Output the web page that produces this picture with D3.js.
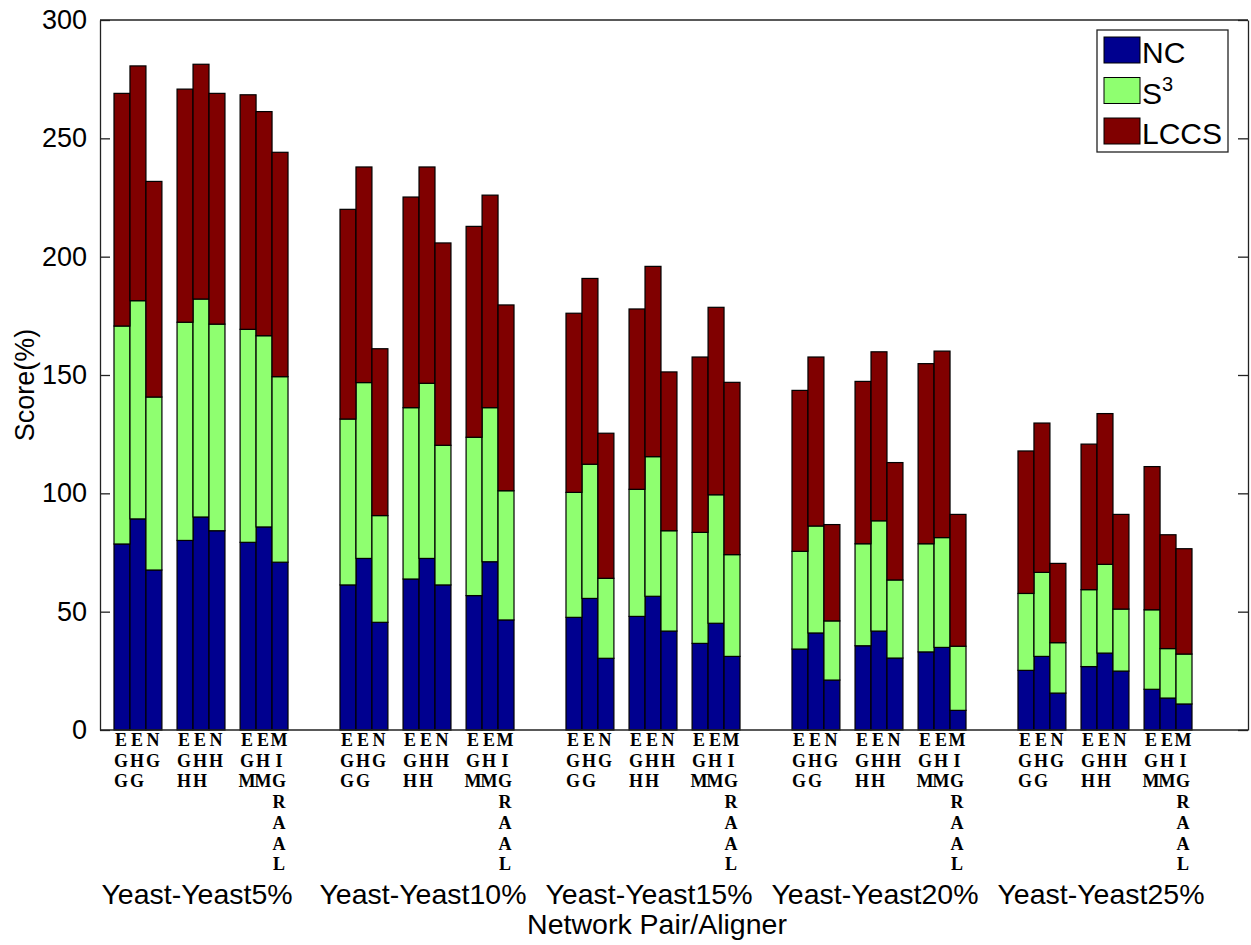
<!DOCTYPE html>
<html>
<head>
<meta charset="utf-8">
<script src="https://cdn.jsdelivr.net/npm/d3@7"></script>
<style>
  body { margin: 0; background: #fff; }
  svg { display: block; }
</style>
</head>
<body>
<script>
var w = 1251;
var h = 945;

// plot box
var plotLeft = 100, plotRight = 1248, plotTop = 20, plotBottom = 730;

var groups = ["Yeast-Yeast5%", "Yeast-Yeast10%", "Yeast-Yeast15%", "Yeast-Yeast20%", "Yeast-Yeast25%"];
var aligners = [
    ["EGG", "EHG", "NG"],
    ["EGH", "EHH", "NH"],
    ["EGM", "EHM", "MIGRAAL"]
];
var keys = ["nc", "s3", "lccs"];
var yTicks = [0, 50, 100, 150, 200, 250, 300];

// one row per group, 9 bars in aligner order
var ncValues = [
    [78.6, 89.2, 67.6, 80.1, 90.0, 84.2, 79.3, 85.8, 70.9],
    [61.3, 72.5, 45.5, 63.8, 72.5, 61.3, 56.8, 71.1, 46.5],
    [47.6, 55.6, 30.3, 48.0, 56.5, 41.8, 36.6, 45.1, 31.1],
    [34.2, 41.0, 21.1, 35.6, 41.8, 30.4, 33.0, 34.9, 8.3],
    [25.2, 31.1, 15.6, 26.8, 32.5, 24.9, 17.2, 13.5, 11.0]
];
var s3Values = [
    [92.1, 92.2, 73.1, 92.2, 92.1, 87.3, 90.0, 80.8, 78.4],
    [70.1, 74.3, 45.1, 72.4, 74.0, 59.0, 66.9, 65.1, 54.6],
    [52.8, 56.7, 33.8, 53.7, 59.0, 42.4, 46.9, 54.3, 43.0],
    [41.3, 45.2, 25.0, 43.1, 46.6, 33.0, 45.7, 46.4, 27.1],
    [32.5, 35.5, 21.3, 32.5, 37.5, 26.2, 33.6, 20.9, 21.1]
];
var lccsValues = [
    [98.3, 99.2, 91.1, 98.5, 99.2, 97.5, 99.1, 94.7, 94.8],
    [88.6, 91.1, 70.5, 89.0, 91.4, 85.5, 89.1, 89.8, 78.5],
    [75.7, 78.5, 61.3, 76.2, 80.4, 67.1, 74.1, 79.2, 72.8],
    [68.0, 71.4, 40.7, 68.6, 71.4, 49.6, 76.1, 78.8, 55.7],
    [60.2, 63.1, 33.5, 61.5, 63.7, 40.0, 60.5, 48.1, 44.5]
];

var colors = {nc: "#00008F", s3: "#8FFF70", lccs: "#800000"};

var rows = [];
groups.forEach(function(g, gi) {
    aligners.forEach(function(set, si) {
        set.forEach(function(name, bi) {
            var k = si * 3 + bi;
            rows.push({group: g, sub: si, bar: bi, name: name,
                nc: ncValues[gi][k], s3: s3Values[gi][k], lccs: lccsValues[gi][k]});
        });
    });
});

var stacked = d3.stack().keys(keys)(rows);

var xGroup = d3.scaleBand()
    .domain(groups)
    .range([114, 1192])
    .paddingInner(0.23);

var xSub = d3.scaleBand()
    .domain([0, 1, 2])
    .range([0, xGroup.bandwidth()])
    .paddingInner(0.24);

var xBar = d3.scaleBand()
    .domain([0, 1, 2])
    .range([0, xSub.bandwidth()]);

var yScale = d3.scaleLinear()
    .domain([0, 300])
    .range([plotBottom, plotTop]);

function barX(d) {
    return xGroup(d.group) + xSub(d.sub) + xBar(d.bar);
}

var svg = d3.select("body")
    .append("svg")
    .attr("width", w)
    .attr("height", h)
    .style("font-family", "'Liberation Sans', Arial, sans-serif");

// bars
svg.selectAll(".layer")
    .data(stacked)
    .enter()
    .append("g")
    .attr("class", "layer")
    .attr("fill", function(d) { return colors[d.key]; })
    .selectAll("rect")
    .data(function(d) { return d; })
    .enter()
    .append("rect")
    .attr("x", function(d) { return barX(d.data); })
    .attr("width", xBar.bandwidth())
    .attr("y", function(d) { return yScale(d[1]); })
    .attr("height", function(d) { return yScale(d[0]) - yScale(d[1]); })
    .attr("stroke", "#000")
    .attr("stroke-width", 1.2);

// axes box
var yAxis = d3.axisLeft(yScale)
    .tickValues(yTicks)
    .tickSizeInner(-10)
    .tickSizeOuter(0)
    .tickPadding(13);

var ya = svg.append("g")
    .attr("transform", "translate(" + plotLeft + ",0)")
    .call(yAxis);
ya.selectAll("text")
    .style("font-size", "27px")
    .attr("fill", "#000");
ya.selectAll("line, path").attr("stroke", "#222").attr("stroke-width", 1.3);

var yAxisR = d3.axisRight(yScale)
    .tickValues(yTicks)
    .tickSizeInner(-10)
    .tickSizeOuter(0)
    .tickFormat("");

var yr = svg.append("g")
    .attr("transform", "translate(" + plotRight + ",0)")
    .call(yAxisR);
yr.selectAll("line, path").attr("stroke", "#222").attr("stroke-width", 1.3);

svg.append("line")
    .attr("x1", plotLeft).attr("x2", plotRight)
    .attr("y1", plotTop).attr("y2", plotTop)
    .attr("stroke", "#222").attr("stroke-width", 1.3);
svg.append("line")
    .attr("x1", plotLeft).attr("x2", plotRight)
    .attr("y1", plotBottom).attr("y2", plotBottom)
    .attr("stroke", "#222").attr("stroke-width", 1.3);

// vertical aligner names under each bar
var names = svg.selectAll(".name")
    .data(rows)
    .enter()
    .append("text")
    .attr("class", "name")
    .attr("text-anchor", "middle")
    .style("font-family", "'Liberation Serif', 'Times New Roman', serif")
    .style("font-weight", "bold")
    .style("font-size", "18px")
    .attr("fill", "#000");

names.selectAll("tspan")
    .data(function(d) {
        var x = barX(d) + xBar.bandwidth() / 2 - 1;
        return d.name.split("").map(function(c) { return {c: c, x: x}; });
    })
    .enter()
    .append("tspan")
    .attr("x", function(d) { return d.x; })
    .attr("y", function(d, i) { return 746 + i * 20.7; })
    .text(function(d) { return d.c; });

// group labels
svg.selectAll(".glabel")
    .data(groups)
    .enter()
    .append("text")
    .attr("class", "glabel")
    .attr("text-anchor", "middle")
    .attr("x", function(d) { return xGroup(d) + xGroup.bandwidth() / 2 - 4; })
    .attr("y", 904)
    .style("font-size", "28.5px")
    .text(function(d) { return d; });

svg.append("text")
    .attr("text-anchor", "middle")
    .attr("x", 657)
    .attr("y", 934)
    .style("font-size", "28.5px")
    .text("Network Pair/Aligner");

svg.append("text")
    .attr("text-anchor", "middle")
    .attr("transform", "translate(34," + ((plotTop + plotBottom) / 2 + 10) + ") rotate(-90)")
    .style("font-size", "27px")
    .text("Score(%)");

// legend
var legend = svg.append("g");
legend.append("rect")
    .attr("x", 1097).attr("y", 30)
    .attr("width", 131).attr("height", 122)
    .attr("fill", "#fff")
    .attr("stroke", "#222").attr("stroke-width", 1.3);

var items = legend.selectAll(".item")
    .data(keys)
    .enter()
    .append("g")
    .attr("class", "item")
    .attr("transform", function(d, i) { return "translate(1104," + (37 + i * 40.5) + ")"; });

items.append("rect")
    .attr("width", 36).attr("height", 26)
    .attr("fill", function(d) { return colors[d]; })
    .attr("stroke", "#000");

var ltext = items.append("text")
    .attr("x", 38)
    .attr("y", 26)
    .style("font-size", "30px");

ltext.filter(function(d) { return d === "nc"; }).text("NC");
ltext.filter(function(d) { return d === "lccs"; }).text("LCCS");
var s3t = ltext.filter(function(d) { return d === "s3"; });
s3t.append("tspan").text("S");
s3t.append("tspan")
    .attr("dy", -13)
    .style("font-size", "20px")
    .text("3");
</script>
</body>
</html>
